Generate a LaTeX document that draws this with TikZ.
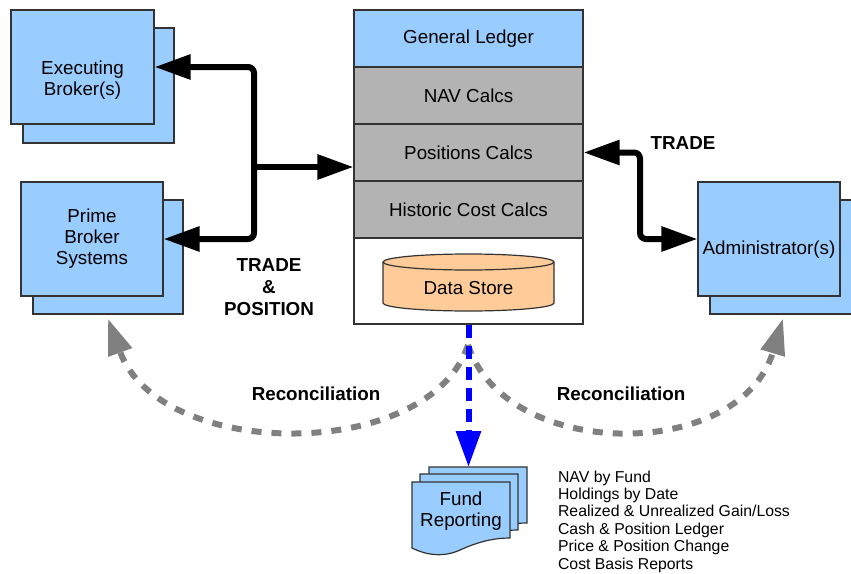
\documentclass[tikz,border=0pt]{standalone}
\usepackage{fontspec}
\setmainfont{Liberation Sans}
\usetikzlibrary{arrows.meta,positioning,calc}
\definecolor{boxblue}{RGB}{153,204,255}
\definecolor{calcgray}{RGB}{179,179,179}
\definecolor{storeorange}{RGB}{255,204,153}
\definecolor{recongray}{RGB}{128,128,128}

\begin{document}
\begin{tikzpicture}[x=0.5pt, y=-0.5pt,
    >={Triangle[length=18pt,width=12pt]},
    box/.style={draw=black!80, line width=0.6pt, fill=boxblue, align=center, font=\fontsize{9.4}{10.5}\selectfont},
    layer/.style={draw=black!80, line width=0.6pt, minimum width=114.5pt, minimum height=28.5pt, font=\fontsize{9.4}{10.5}\selectfont},
    feed/.style={line width=3pt, rounded corners=3pt},
    recon/.style={draw=recongray, line width=3pt, dash pattern=on 5pt off 5pt, ->},
    report/.style={draw=blue, line width=3pt, dash pattern=on 6.5pt off 4pt, ->},
    tag/.style={font=\bfseries\fontsize{9.4}{11}\selectfont, align=center}]
    \useasboundingbox (0,0) rectangle (851,573);
    \clip (0,0) rectangle (851,573);

    % brokers and administrator
    \node[box, minimum width=75.5pt, minimum height=57.5pt] (execback) at (98.5,85.5) {};
    \node[box, minimum width=71.5pt, minimum height=57pt,
          label={[yshift=-6.5pt, align=center, font=\fontsize{9.4}{10.5}\selectfont]center:Executing\\Broker(s)}] (exec) at (82.5,67) {};
    \node[box, minimum width=75pt, minimum height=57pt] (primeback) at (108,257) {};
    \node[box, minimum width=71pt, minimum height=57pt] (prime) at (92,239) {Prime\\Broker\\Systems};
    \node[box, minimum width=73pt, minimum height=57pt] (adminback) at (783,257) {};
    \node[box, minimum width=71pt, minimum height=57pt,
          label={[yshift=-5.5pt, font=\fontsize{9.4}{10.5}\selectfont]center:Administrator(s)}] (admin) at (769,239) {};

    % accounting stack
    \node[layer, fill=boxblue] (gl) at (468.5,38.5) {General Ledger};
    \node[layer, fill=calcgray] (nav) at (468.5,95.5) {NAV Calcs};
    \node[layer, fill=calcgray] (pos) at (468.5,152.5) {Positions Calcs};
    \node[layer, fill=calcgray] (hist) at (468.5,209.5) {Historic Cost Calcs};
    \node[layer, fill=white, minimum height=43pt] (base) at (468.5,281) {};
    \filldraw[fill=storeorange, draw=black!80, line width=0.6pt] (383,262) -- (383,303)
        arc[start angle=180, end angle=360, x radius=42.75pt, y radius=4pt] -- (554,262)
        arc[start angle=0, end angle=180, x radius=42.75pt, y radius=4pt] -- cycle;
    \draw[black!80, line width=0.6pt] (383,262) arc[start angle=180, end angle=360, x radius=42.75pt, y radius=4pt];
    \node[font=\fontsize{9.4}{10.5}\selectfont] (store) at (468.5,288) {Data Store};

    % trade feeds
    \coordinate (trunk) at (254,0);
    \coordinate (rturn) at (640,0);
    \coordinate (posin) at ([yshift=-7.25pt]pos.west);
    \draw[feed, <->] (exec.east) -- (exec.east -| trunk) -- (prime.east -| trunk) -- (prime.east);
    \draw[feed, ->] (posin -| trunk) -- (posin);
    \draw[feed, <->] (pos.east) -- (pos.east -| rturn) -- (admin.west -| rturn) -- (admin.west);
    \node[tag] (tradepos) at (269,287) {TRADE\\\&\\POSITION};
    \node[tag] (trade) at (683,143) {TRADE};

    % reconciliation
    \coordinate (recstart) at (468,345);
    \draw[recon] (recstart) .. controls (430,462) and (160,462) .. ([yshift=-2pt]primeback.south);
    \draw[recon] (recstart) .. controls (506,462) and (740,462) .. ([yshift=-2pt]adminback.south);
    \node[tag] (reconl) at (316,394) {Reconciliation};
    \node[tag] (reconr) at (621,394) {Reconciliation};

    % fund reporting
    \foreach \dx/\dy in {17/-15, 8/-8, 0/0}
        \filldraw[shift={(\dx,\dy)}, fill=boxblue, draw=black!80, line width=0.6pt]
            (412,482) -- (510,482) -- (510,538) .. controls (495,538) and (480,541) .. (460,550)
            .. controls (445,557) and (428,556) .. (412,548) -- cycle;
    \node[align=center, font=\fontsize{9.4}{10.5}\selectfont] (fund) at (461,511) {Fund\\Reporting};
    \coordinate (fundtop) at (468.5,467);
    \draw[report] (base.south) -- (fundtop);
    \node[anchor=west, align=left, font=\fontsize{7.9}{8.7}\selectfont] (outputs) at (551,521.5)
        {NAV by Fund\\Holdings by Date\\Realized \& Unrealized Gain/Loss\\Cash \& Position Ledger\\Price \& Position Change\\Cost Basis Reports};
\end{tikzpicture}
\end{document}
